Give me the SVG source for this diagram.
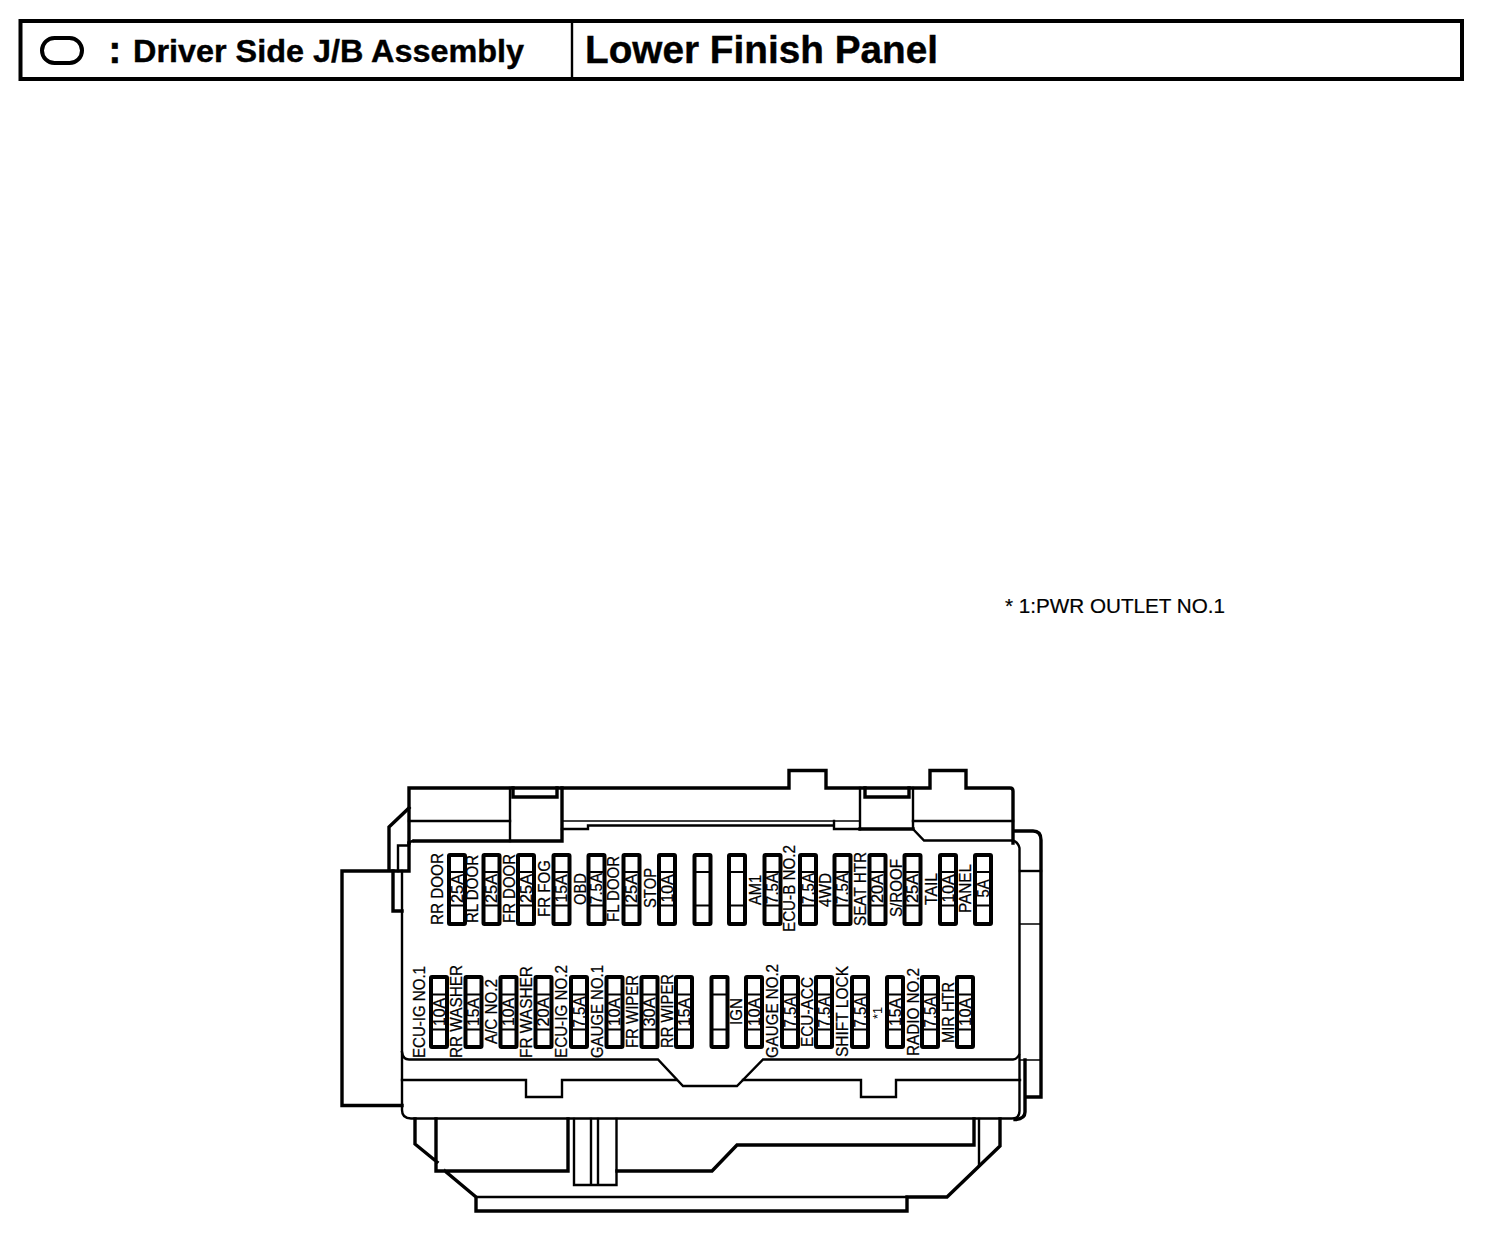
<svg xmlns="http://www.w3.org/2000/svg" width="1504" height="1234" viewBox="0 0 1504 1234">
<style>
text{font-family:"Liberation Sans",Arial,sans-serif;fill:#000}
.h{font-weight:700;stroke:#000;stroke-width:.4}
.l,.a{font-size:16px;stroke:#000;stroke-width:.25}
.a{text-anchor:middle}
.n{font-size:20px;stroke:#000;stroke-width:.2}
path,rect,line{fill:none;stroke:#000;stroke-linecap:square;stroke-linejoin:miter}
.t1{stroke-width:1.6}
.t2{stroke-width:2.4}
.t3{stroke-width:3.4}
.t4{stroke-width:4}
.f{stroke-width:4}
.d{stroke-width:1.8}
</style>
<defs>
<g id="fa"><rect class="f" x="2" y="2" width="16" height="69" rx="1"/><path class="d" d="M2 19H18M2 52.500H18"/></g>
<g id="fb"><rect class="f" x="2" y="2" width="16" height="70" rx="1"/><path class="d" d="M2 19.500H18M2 54.500H18"/></g>
</defs>
<rect width="1504" height="1234" style="fill:#fff;stroke:none"/>

<g id="header">
<rect class="t4" x="20.500" y="21" width="1441.500" height="58"/>
<path class="t2" d="M572 21V79"/>
<rect class="t4" x="42" y="38" width="40" height="25" rx="12.500"/>
<text class="h" x="108.500" y="63" font-size="38" style="stroke-width:.6">:</text>
<text class="h" x="133" y="61.500" font-size="32" textLength="391" lengthAdjust="spacingAndGlyphs">Driver Side J/B Assembly</text>
<text class="h" x="585" y="62.500" font-size="38.500" textLength="353" lengthAdjust="spacingAndGlyphs">Lower Finish Panel</text>
</g>
<text id="note" class="n" x="1005" y="613" textLength="220" lengthAdjust="spacingAndGlyphs">* 1:PWR OUTLET NO.1</text>

<g id="housing">
<path class="t3" d="M409 843V788H789V770.500H826V788H930V770.500H966V788H1010Q1013 788 1013 791V843"/>
<path class="t3" d="M409 808L389 827V871M342 871H409V843M342 871V1105.500H402"/>
<path class="t2" d="M398 871V845.500H409"/>
<path class="t3" d="M393 871V911H402"/>
<path class="t2" d="M402 871V1110Q402 1118.500 411 1118.500H1012Q1019.500 1118.500 1019.500 1111V848Q1018 842 1013 840.500H924L913 829V788M413 841Q411 841 409 843"/>
<path class="t3" d="M414 841H562V788M513 788V797H557V788M865 788V797H909V788M860 829H913"/>
<path class="t2" d="M510 841V788M860 829V788"/>
<path class="t2" d="M409 821H510M913 821H1013"/>
<path class="t1" d="M562 821H860"/>
<path class="t2" d="M562 829H588V825.500H834M834 821V829H860"/>
<path class="t3" d="M1014 831H1033Q1041 831 1041 840V1097H1025M1025 1060V1112Q1025 1119 1015 1119.500"/>
<path class="t2" d="M1020 871H1041"/>
<path class="t1" d="M1020 924H1041M1020 1060H1041"/>
<path class="t2" d="M402 1052Q403 1059.500 409 1059.500H658L683 1086H737L763 1059.500H1013Q1017 1059 1019 1055"/>
<path class="t2" d="M402 1080H526V1097H562V1080H676M743 1080H861V1097H896V1080H1020"/>
<path class="t3" d="M415 1119V1144L437 1162M436 1119V1171H568V1119M445 1171L476 1197V1211H907V1197H947L1000 1146V1119"/>
<path class="t2" d="M476 1197H907M979 1119V1165"/>
<path class="t3" d="M974 1119V1145H737L712 1171H617"/>
<path class="t2" d="M574 1119V1185H616.500V1119M591 1119V1185M598 1119V1185"/>
</g>

<g id="fuses-top">
<use href="#fa" x="447" y="853"/><use href="#fa" x="481.500" y="853"/><use href="#fa" x="516" y="853"/><use href="#fa" x="551.500" y="853"/>
<use href="#fa" x="586.500" y="853"/><use href="#fa" x="621.500" y="853"/><use href="#fa" x="657" y="853"/><use href="#fa" x="692.500" y="853"/>
<use href="#fa" x="727" y="853"/><use href="#fa" x="762.500" y="853"/><use href="#fa" x="798" y="853"/><use href="#fa" x="832.500" y="853"/>
<use href="#fa" x="867.500" y="853"/><use href="#fa" x="902.500" y="853"/><use href="#fa" x="938" y="853"/><use href="#fa" x="973" y="853"/>
</g>
<g id="fuses-bottom">
<use href="#fb" x="429" y="975"/><use href="#fb" x="463.500" y="975"/><use href="#fb" x="498.500" y="975"/><use href="#fb" x="533.500" y="975"/>
<use href="#fb" x="569" y="975"/><use href="#fb" x="604.500" y="975"/><use href="#fb" x="639.500" y="975"/><use href="#fb" x="674" y="975"/>
<use href="#fb" x="709.500" y="975"/><use href="#fb" x="744" y="975"/><use href="#fb" x="780" y="975"/><use href="#fb" x="814" y="975"/>
<use href="#fb" x="850" y="975"/><use href="#fb" x="885" y="975"/><use href="#fb" x="920" y="975"/><use href="#fb" x="955" y="975"/>
</g>

<g id="labels-top">
<text class="l" transform="translate(442.700,925) rotate(-90)" textLength="72" lengthAdjust="spacingAndGlyphs">RR DOOR</text>
<text class="l" transform="translate(478,923) rotate(-90)" textLength="68" lengthAdjust="spacingAndGlyphs">RL DOOR</text>
<text class="l" transform="translate(515,923) rotate(-90)" textLength="69" lengthAdjust="spacingAndGlyphs">FR DOOR</text>
<text class="l" transform="translate(550,917) rotate(-90)" textLength="57" lengthAdjust="spacingAndGlyphs">FR FOG</text>
<text class="l" transform="translate(586,905) rotate(-90)" textLength="32" lengthAdjust="spacingAndGlyphs">OBD</text>
<text class="l" transform="translate(619,922) rotate(-90)" textLength="66" lengthAdjust="spacingAndGlyphs">FL DOOR</text>
<text class="l" transform="translate(656,908) rotate(-90)" textLength="40" lengthAdjust="spacingAndGlyphs">STOP</text>
<text class="l" transform="translate(761,905) rotate(-90)" textLength="30" lengthAdjust="spacingAndGlyphs">AM1</text>
<text class="l" transform="translate(795,932) rotate(-90)" textLength="87" lengthAdjust="spacingAndGlyphs">ECU-B NO.2</text>
<text class="l" transform="translate(831,907) rotate(-90)" textLength="34" lengthAdjust="spacingAndGlyphs">4WD</text>
<text class="l" transform="translate(866,926) rotate(-90)" textLength="74" lengthAdjust="spacingAndGlyphs">SEAT HTR</text>
<text class="l" transform="translate(902,917) rotate(-90)" textLength="58" lengthAdjust="spacingAndGlyphs">S/ROOF</text>
<text class="l" transform="translate(937,905) rotate(-90)" textLength="32" lengthAdjust="spacingAndGlyphs">TAIL</text>
<text class="l" transform="translate(971,913) rotate(-90)" textLength="49" lengthAdjust="spacingAndGlyphs">PANEL</text>
</g>
<g id="amps-top">
<text class="a" transform="translate(462.700,888.500) rotate(-90)" textLength="29" lengthAdjust="spacingAndGlyphs">25A</text>
<text class="a" transform="translate(497,888.500) rotate(-90)" textLength="29" lengthAdjust="spacingAndGlyphs">25A</text>
<text class="a" transform="translate(531.500,888.500) rotate(-90)" textLength="29" lengthAdjust="spacingAndGlyphs">25A</text>
<text class="a" transform="translate(567,888.500) rotate(-90)" textLength="28" lengthAdjust="spacingAndGlyphs">15A</text>
<text class="a" transform="translate(602,888.500) rotate(-90)" textLength="31" lengthAdjust="spacingAndGlyphs">7.5A</text>
<text class="a" transform="translate(637,888.500) rotate(-90)" textLength="29" lengthAdjust="spacingAndGlyphs">25A</text>
<text class="a" transform="translate(672.500,888.500) rotate(-90)" textLength="28" lengthAdjust="spacingAndGlyphs">10A</text>
<text class="a" transform="translate(778,888.500) rotate(-90)" textLength="31" lengthAdjust="spacingAndGlyphs">7.5A</text>
<text class="a" transform="translate(813.500,888.500) rotate(-90)" textLength="31" lengthAdjust="spacingAndGlyphs">7.5A</text>
<text class="a" transform="translate(848,888.500) rotate(-90)" textLength="31" lengthAdjust="spacingAndGlyphs">7.5A</text>
<text class="a" transform="translate(883,888.500) rotate(-90)" textLength="29" lengthAdjust="spacingAndGlyphs">20A</text>
<text class="a" transform="translate(918,888.500) rotate(-90)" textLength="29" lengthAdjust="spacingAndGlyphs">25A</text>
<text class="a" transform="translate(953.500,888.500) rotate(-90)" textLength="28" lengthAdjust="spacingAndGlyphs">10A</text>
<text class="a" transform="translate(988.500,888.500) rotate(-90)" textLength="18" lengthAdjust="spacingAndGlyphs">5A</text>
</g>
<g id="labels-bottom">
<text class="l" transform="translate(425,1058) rotate(-90)" textLength="92" lengthAdjust="spacingAndGlyphs">ECU-IG NO.1</text>
<text class="l" transform="translate(461.700,1058) rotate(-90)" textLength="93" lengthAdjust="spacingAndGlyphs">RR WASHER</text>
<text class="l" transform="translate(496.700,1044) rotate(-90)" textLength="65" lengthAdjust="spacingAndGlyphs">A/C NO.2</text>
<text class="l" transform="translate(532,1058) rotate(-90)" textLength="92" lengthAdjust="spacingAndGlyphs">FR WASHER</text>
<text class="l" transform="translate(567.300,1058) rotate(-90)" textLength="93" lengthAdjust="spacingAndGlyphs">ECU-IG NO.2</text>
<text class="l" transform="translate(603,1058) rotate(-90)" textLength="93" lengthAdjust="spacingAndGlyphs">GAUGE NO.1</text>
<text class="l" transform="translate(638,1048) rotate(-90)" textLength="73" lengthAdjust="spacingAndGlyphs">FR WIPER</text>
<text class="l" transform="translate(673,1048) rotate(-90)" textLength="74" lengthAdjust="spacingAndGlyphs">RR WIPER</text>
<text class="l" transform="translate(742,1025) rotate(-90)" textLength="27" lengthAdjust="spacingAndGlyphs">IGN</text>
<text class="l" transform="translate(778,1058) rotate(-90)" textLength="94" lengthAdjust="spacingAndGlyphs">GAUGE NO.2</text>
<text class="l" transform="translate(813,1047) rotate(-90)" textLength="70" lengthAdjust="spacingAndGlyphs">ECU-ACC</text>
<text class="l" transform="translate(848,1057) rotate(-90)" textLength="91" lengthAdjust="spacingAndGlyphs">SHIFT LOCK</text>
<text transform="translate(882,1019) rotate(-90)" font-size="13" textLength="12" lengthAdjust="spacingAndGlyphs">*1</text>
<text class="l" transform="translate(918.700,1056) rotate(-90)" textLength="88" lengthAdjust="spacingAndGlyphs">RADIO NO.2</text>
<text class="l" transform="translate(954,1043) rotate(-90)" textLength="61" lengthAdjust="spacingAndGlyphs">MIR HTR</text>
</g>
<g id="amps-bottom">
<text class="a" transform="translate(444.500,1012) rotate(-90)" textLength="28" lengthAdjust="spacingAndGlyphs">10A</text>
<text class="a" transform="translate(479,1012) rotate(-90)" textLength="28" lengthAdjust="spacingAndGlyphs">15A</text>
<text class="a" transform="translate(514,1012) rotate(-90)" textLength="28" lengthAdjust="spacingAndGlyphs">10A</text>
<text class="a" transform="translate(549,1012) rotate(-90)" textLength="29" lengthAdjust="spacingAndGlyphs">20A</text>
<text class="a" transform="translate(585,1012) rotate(-90)" textLength="31" lengthAdjust="spacingAndGlyphs">7.5A</text>
<text class="a" transform="translate(620,1012) rotate(-90)" textLength="28" lengthAdjust="spacingAndGlyphs">10A</text>
<text class="a" transform="translate(655,1012) rotate(-90)" textLength="29" lengthAdjust="spacingAndGlyphs">30A</text>
<text class="a" transform="translate(689.500,1012) rotate(-90)" textLength="28" lengthAdjust="spacingAndGlyphs">15A</text>
<text class="a" transform="translate(759.500,1012) rotate(-90)" textLength="28" lengthAdjust="spacingAndGlyphs">10A</text>
<text class="a" transform="translate(795.500,1012) rotate(-90)" textLength="31" lengthAdjust="spacingAndGlyphs">7.5A</text>
<text class="a" transform="translate(829.500,1012) rotate(-90)" textLength="31" lengthAdjust="spacingAndGlyphs">7.5A</text>
<text class="a" transform="translate(865.500,1012) rotate(-90)" textLength="31" lengthAdjust="spacingAndGlyphs">7.5A</text>
<text class="a" transform="translate(900.500,1012) rotate(-90)" textLength="28" lengthAdjust="spacingAndGlyphs">15A</text>
<text class="a" transform="translate(935.500,1012) rotate(-90)" textLength="31" lengthAdjust="spacingAndGlyphs">7.5A</text>
<text class="a" transform="translate(970.500,1012) rotate(-90)" textLength="28" lengthAdjust="spacingAndGlyphs">10A</text>
</g>
</svg>
